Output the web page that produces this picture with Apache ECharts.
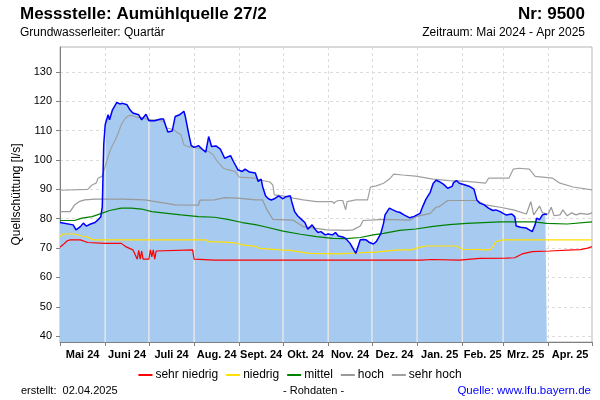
<!DOCTYPE html>
<html><head><meta charset="utf-8">
<script src="https://cdn.jsdelivr.net/npm/echarts@6/dist/echarts.min.js"></script>
<style>html,body{margin:0;padding:0;background:#fff}#c{width:600px;height:400px}</style>
</head><body><div id="c"></div>
<script>
// x values are day offsets from 1 May 2024
const monthStarts = [0,31,61,92,123,153,184,214,245,276,304,335,365];
const monthLabels = ['Mai 24','Juni 24','Juli 24','Aug. 24','Sept. 24','Okt. 24','Nov. 24','Dez. 24','Jan. 25','Feb. 25','Mrz. 25','Apr. 25'];
const yTicks = [40,50,60,70,80,90,100,110,120,130];

const rohDays = [0,9,11,14,16,18,21,24,26,28,29,30,31,33,34,36,39,41,43,46,48,50,54,56,59,61,65,69,71,74,77,79,82,85,86,88,90,92,95,98,100,102,104,107,110,113,117,119,122,125,127,130,134,136,138,139,141,143,145,147,150,153,155,158,159,161,163,166,168,170,173,175,177,179,182,184,187,189,191,194,196,199,201,203,204,206,208,210,212,215,217,220,222,223,226,228,231,233,236,240,243,247,249,251,254,256,258,260,263,266,269,270,272,274,278,281,284,286,288,291,294,297,299,302,304,306,310,312,313,316,320,322,324,326,327,329,331,333,334];
const rohVals = [78.7,77.9,76.2,77.3,78.5,77.5,78.2,78.7,79.6,80.7,84,105.2,112,115.4,113.7,117.1,119.6,119.1,119.3,118.8,117.1,116.0,115.4,113.7,115.6,113.4,113.4,114.0,114.0,109.5,109.9,114.8,115.4,116.6,114.8,109.7,105.0,104.3,104.9,103.5,102.7,108.0,104.6,104.8,103.7,100.6,101.5,99.5,96.7,96.1,96.9,95.9,95.6,92.7,93.5,91.0,87.8,86.8,86.4,86.8,87.8,86.8,87.5,87.8,85.8,82.4,81.0,79.6,78.7,76.4,77.9,76.4,75.3,75.6,74.5,74.8,74.5,75.3,74.1,73.8,73.3,71.6,69.9,68.2,68.2,72.8,72.9,72.8,72.0,71.4,72.2,74.8,78.5,81.3,83.6,83.1,82.4,82.2,81.3,80.3,80.8,81.8,84.3,86.6,89.0,92.0,93.1,92.7,91.8,90.4,91.0,92.3,93.0,92.1,91.5,91.0,90.1,86.4,85.3,84.7,83.6,82.8,83.0,82.4,81.8,81.3,81.6,80.7,77.5,77.1,76.8,76.2,75.6,78.0,80.2,79.7,81.3,81.6,81.3];

const sehrHochDays = [0,19,22,25,26,29,31,33,35,38,40,42,45,47,50,53,56,59,63,67,71,73,78,80,83,85,88,91,95,98,102,105,108,112,115,120,123,129,134,137,144,146,147,153,160,167,176,187,188,189,191,194,196,197,203,211,213,217,222,226,229,235,244,256,267,279,292,294,308,311,315,322,326,338,343,352,365];
const sehrHochVals = [89.7,90.0,91.5,92.2,93.8,94.5,97.8,101.2,104.0,106.9,109.2,112.0,114.3,115.1,115.1,114.5,114.5,114.0,113.7,113.7,113.1,110.9,110.4,109.5,108.6,105.2,104.5,104.5,104.0,103.5,102.9,101.8,99.5,97.2,96.7,96.1,94.2,94.0,93.8,93.2,92.5,91.5,88.1,87.8,87.0,86.4,85.8,85.8,85.1,85.8,86.2,86.2,83.0,85.8,86.4,86.4,90.8,91.2,92.1,93.5,95.2,94.9,94.5,93.5,93.0,92.7,92.1,93.8,93.8,96.9,97.2,96.9,94.4,93.8,92.1,90.8,89.8];

const hochDays = [0,7,10,13,17,24,42,58,72,79,95,96,106,113,122,134,139,142,146,160,167,183,197,201,206,208,222,240,244,254,258,260,266,286,292,302,311,320,323,325,329,331,335,337,339,343,345,348,351,354,357,362,365];
const hochVals = [82.4,82.4,84.7,85.8,86.4,86.7,86.7,86.4,85.3,84.7,84.6,86.3,86.4,87.2,87.0,86.4,86.4,83.0,79.8,79.5,77.3,76.2,76.0,76.2,77.5,79.4,79.8,79.5,80.7,81.8,83.9,84.1,86.2,86.2,84.7,83.9,83.0,81.6,85.8,81.3,84.3,82.0,81.6,83.9,81.0,81.3,83.0,81.0,82.0,81.3,81.8,81.5,82.0];

const mittelDays = [0,10,15,22,29,34,42,49,56,63,72,83,95,106,115,125,134,142,153,165,176,187,196,206,215,222,233,244,256,267,279,302,325,334,348,365];
const mittelVals = [79.4,79.4,80.2,80.7,81.9,82.8,83.6,83.6,83.3,82.4,81.9,81.3,80.7,80.5,79.8,78.7,78.0,77.1,75.8,74.7,73.9,73.3,73.2,73.6,74.5,75.0,76.0,76.5,77.4,78.0,78.4,78.9,78.9,78.4,78.2,78.9];

const niedrigDays = [0,2,10,15,19,23,42,100,102,113,120,125,134,137,151,158,171,192,206,217,226,233,241,247,251,272,276,295,297,299,304,365];
const niedrigVals = [73.9,74.8,74.8,74.1,73.7,72.8,72.8,72.8,72.2,72.0,71.8,71.1,70.6,69.9,69.4,69.2,68.2,68.0,68.4,68.6,69.1,69.4,69.4,70.3,70.7,70.7,69.6,69.4,70.5,72.2,72.8,72.8];

const sehrNiedrigDays = [0,2,5,7,14,19,31,42,45,50,53,54,55,56,57,61,62,63,64,65,66,67,91,92,106,248,249,255,256,274,288,306,312,317,324,336,352,357,362,365];
const sehrNiedrigVals = [70.3,71.1,72.5,72.8,72.8,71.9,71.6,71.6,70.5,69.4,66.2,69.2,66.2,69.0,66.2,66.2,69.4,67.0,69.4,66.2,69.0,69.4,69.4,66.2,65.9,65.9,66.1,66.1,65.8,65.9,66.5,66.6,66.7,68.0,68.8,69.0,69.4,69.5,70.0,70.5];

const zip = (a, b) => a.map((d, i) => [d, b[i]]);
const rohData = zip(rohDays, rohVals);
const Y_MIN = 38, Y_MAX = 138.5;

function rohAt(d) {
  for (let i = 0; i < rohDays.length - 1; i++) {
    if (d >= rohDays[i] && d <= rohDays[i + 1]) {
      const t = (d - rohDays[i]) / (rohDays[i + 1] - rohDays[i]);
      return rohVals[i] + t * (rohVals[i + 1] - rohVals[i]);
    }
  }
  return null;
}
const innerMonthLines = monthStarts.filter(d => d > 0 && d <= rohDays[rohDays.length - 1]).map(d => [d, rohAt(d)]);
const labelPos = monthLabels.map((_, i) => (monthStarts[i] + monthStarts[i + 1]) / 2);

const FONT = '"Liberation Sans", Arial, sans-serif';
const chart = echarts.init(document.getElementById('c'), null, {renderer: 'canvas'});
chart.setOption({
  animation: false,
  textStyle: {fontFamily: FONT},
  grid: {left: 60, right: 8, top: 47, bottom: 58, show: true, borderColor: '#b4b4b4', borderWidth: 1, containLabel: false},
  legend: {
    top: 364, left: 'center', itemGap: 8, itemWidth: 14, itemHeight: 2, icon: 'rect',
    textStyle: {fontSize: 12, color: '#000', fontFamily: FONT, padding: [0, 0, 0, -2]},
    data: ['sehr niedrig', 'niedrig', 'mittel', 'hoch', 'sehr hoch']
  },
  xAxis: {
    type: 'value', min: 0, max: 365,
    axisLine: {show: true, lineStyle: {color: '#808080', width: 1}},
    axisTick: {show: true, customValues: monthStarts, length: 4, lineStyle: {color: '#808080'}},
    axisLabel: {customValues: labelPos, margin: 7, color: '#000', fontSize: 11, fontWeight: 'bold', fontFamily: FONT,
      formatter: v => { const i = labelPos.indexOf(v); return i >= 0 ? monthLabels[i] : ''; }},
    splitLine: {show: true, lineStyle: {color: '#dcdcdc', type: [3, 3], width: 1}}
  },
  yAxis: {
    type: 'value', min: Y_MIN, max: Y_MAX,
    name: 'Quellschüttung [l/s]', nameLocation: 'middle', nameGap: 35, nameRotate: 90,
    nameTextStyle: {fontSize: 12, color: '#000', fontFamily: FONT},
    axisLine: {show: true, lineStyle: {color: '#808080', width: 1}},
    axisTick: {show: true, customValues: yTicks, length: 4, lineStyle: {color: '#808080'}},
    axisLabel: {customValues: yTicks, color: '#000', fontSize: 11, margin: 8, fontFamily: FONT},
    splitLine: {show: true, lineStyle: {color: '#dcdcdc', type: [3, 3], width: 1}}
  },
  graphic: [
    {type: 'text', left: 20, top: 6, style: {text: 'Messstelle: Aumühlquelle 27/2', font: 'bold 17px ' + FONT, fill: '#000'}},
    {type: 'text', right: 15, top: 6, style: {text: 'Nr: 9500', font: 'bold 17px ' + FONT, fill: '#000'}},
    {type: 'text', left: 20, top: 27, style: {text: 'Grundwasserleiter: Quartär', font: '12px ' + FONT, fill: '#000'}},
    {type: 'text', right: 15, top: 27, style: {text: 'Zeitraum: Mai 2024 - Apr 2025', font: '12px ' + FONT, fill: '#000'}},
    {type: 'text', left: 21, top: 385, style: {text: 'erstellt:  02.04.2025', font: '11px ' + FONT, fill: '#000'}},
    {type: 'text', left: 283, top: 385, style: {text: '- Rohdaten -', font: '11px ' + FONT, fill: '#000'}},
    {type: 'text', right: 9, top: 385, style: {text: 'Quelle: www.lfu.bayern.de', font: '11.5px ' + FONT, fill: '#0000ff'}}
  ],
  series: [
    {name: 'Rohdaten Fläche', type: 'line', data: rohData, showSymbol: false, z: 2,
      lineStyle: {width: 0, opacity: 0}, areaStyle: {color: '#A6CAF0', opacity: 1, origin: 'start'}, silent: true},
    {name: 'Monatslinien', type: 'custom', z: 3, silent: true, data: innerMonthLines,
      renderItem: (params, api) => {
        const p1 = api.coord([api.value(0), Y_MIN]);
        const p2 = api.coord([api.value(0), api.value(1)]);
        return {type: 'line', shape: {x1: p1[0], y1: p1[1], x2: p2[0], y2: p2[1]}, style: {stroke: '#e6e6e6', lineWidth: 1.5}};
      }},
    {name: 'sehr niedrig', type: 'line', data: zip(sehrNiedrigDays, sehrNiedrigVals), showSymbol: false, z: 4, color: '#ff0000', lineStyle: {width: 1.2}},
    {name: 'niedrig', type: 'line', data: zip(niedrigDays, niedrigVals), showSymbol: false, z: 4, color: '#ffe000', lineStyle: {width: 1.2}},
    {name: 'mittel', type: 'line', data: zip(mittelDays, mittelVals), showSymbol: false, z: 4, color: '#008000', lineStyle: {width: 1.2}},
    {name: 'hoch', type: 'line', data: zip(hochDays, hochVals), showSymbol: false, z: 4, color: '#999999', lineStyle: {width: 1.2}},
    {name: 'sehr hoch', type: 'line', data: zip(sehrHochDays, sehrHochVals), showSymbol: false, z: 4, color: '#a0a0a0', lineStyle: {width: 1.2}},
    {name: 'Rohdaten', type: 'line', data: rohData, showSymbol: false, z: 5, color: '#0000ff', lineStyle: {width: 1.5}}
  ]
});
</script></body></html>
